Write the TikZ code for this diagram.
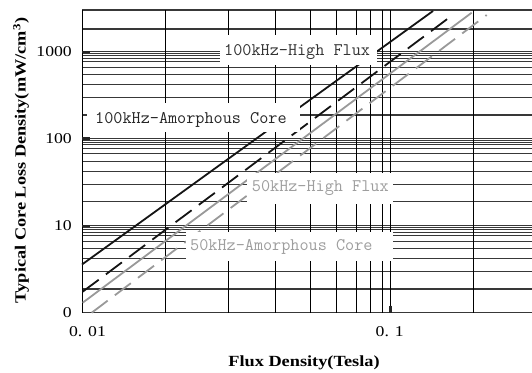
\documentclass[tikz,border=0pt]{standalone}
\usepackage{fontspec}
\setmainfont{Liberation Serif}
\usepackage{graphicx}
\usepackage{tikz}

\newcommand{\widetext}[1]{\scalebox{1.18}[1]{#1}}

\tikzset{
	gridh/.style={black!78,line width=1.1pt},
	gridv/.style={black,line width=0.9pt},
	tickmark/.style={black!85,line width=2.4pt},
	curve/.style={line width=1.8pt},
	dashcurve/.style={line width=1.8pt,dash pattern=on 20pt off 9pt},
	lab/.style={anchor=base west,inner sep=0pt,font=\fontsize{17.7}{20}\selectfont\ttfamily},
	numlab/.style={inner sep=0pt,font=\fontsize{15}{17}\selectfont},
	axtitle/.style={inner sep=0pt,font=\fontsize{15.5}{18}\selectfont\bfseries}
}

\begin{document}
\begin{tikzpicture}[x=1pt,y=-1pt]
		\useasboundingbox (0,0) rectangle (532,372);

		\foreach \m in {51.7,138.3,225.7} { \foreach \d in {0,2,4.1,6.6,9.8,15.4,23,32.8,46.2,63.3} { \draw[gridh] (82,{\m+\d}) -- (532,{\m+\d});}}
		\foreach \y in {10,29,312.7} { \draw[gridh] (82,\y) -- (532,\y);}
		\foreach \x in {82,165.7,228.3,275,310,336.7,356,370.7,382.3,390.3,473.3} { \draw[gridv] (\x,10) -- (\x,312.7);}

		\foreach \m in {51.7,138.3,225.7} { \draw[tickmark] (82,\m) -- (90,\m);}
		\draw[tickmark] (390.3,305.7) -- (390.3,312.7);

		\draw[curve,black!92] (82,264.5) -- (433,11);
		\draw[dashcurve,black!92] (82.7,291.7) -- (454,14);
		\draw[curve,black!40] (82.7,302.7) -- (471.7,12.7);
		\draw[dashcurve,black!40] (91.7,312.7) -- (486.7,15);

%		label boxes
		\fill[white] (220,35) rectangle (377,65);
		\fill[white] (87,103) rectangle (300,132);
		\fill[white] (246.7,173) rectangle (392.7,204);
		\fill[white] (186,232) rectangle (392.7,261);

		\node[lab,text=black!80] (hf100) at (224,55) {100kHz-High Flux};
		\node[lab,text=black!85] (am100) at (95,123) {100kHz-Amorphous Core};
		\node[lab,text=black!38] (hf50) at (251.7,191) {50kHz-High Flux};
		\node[lab,text=black!38] (am50) at (190,250) {50kHz-Amorphous Core};

		\foreach \v / \y in {1000/51.7,100/138.6,10/226,0/312.7} { \node[numlab,anchor=east] (y\v) at (72,\y) {\widetext{\v}};}
		\node[numlab] (x001) at (87.5,331.7) {\widetext{0. 01}};
		\node[numlab] (x01) at (389.7,331.7) {\widetext{0. 1}};

		\node[axtitle,anchor=base] (xtitle) at (304,366.7) {\widetext{Flux Density(Tesla)}};
		\node[axtitle,anchor=base,rotate=90] (ytitle) at (25.5,160.5) {\widetext{Typical Core Loss Density(mW/cm\textsuperscript{3})}};
\end{tikzpicture}
\end{document}
